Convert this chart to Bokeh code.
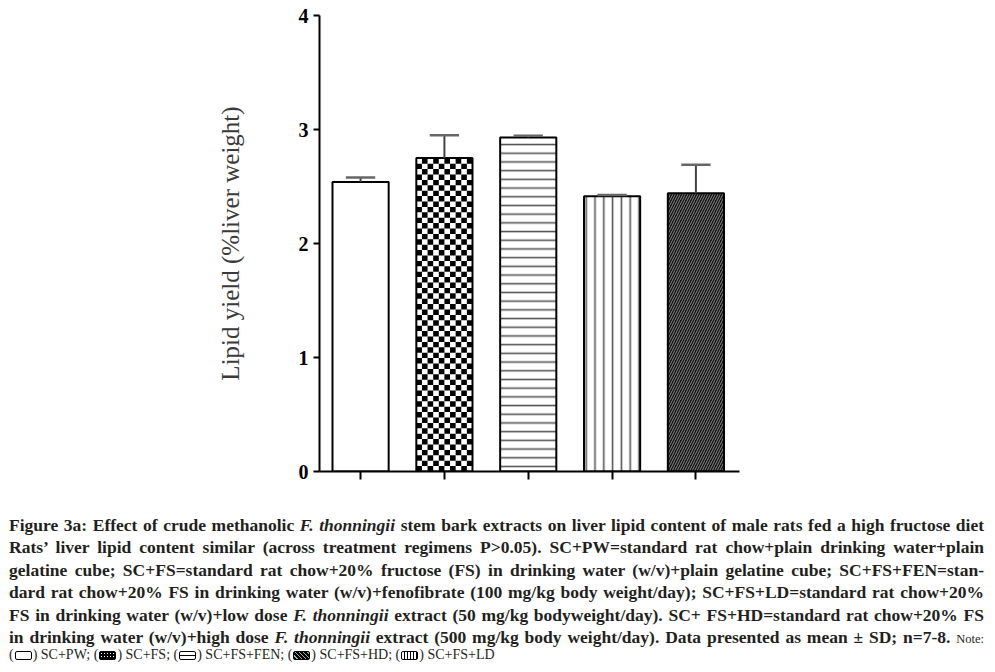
import numpy as np
from bokeh.plotting import figure
from bokeh.models import Range1d, FixedTicker, Div
from bokeh.layouts import column
from bokeh.embed import file_html
from bokeh.resources import INLINE

# ---------------- data ----------------
groups = ["SC+PW", "SC+FS", "SC+FS+FEN", "SC+FS+LD", "SC+FS+HD"]
means = [2.54, 2.75, 2.93, 2.415, 2.44]
sds = [0.04, 0.20, 0.015, 0.01, 0.25]
y_ticks = [0, 1, 2, 3, 4]
y_label = "Lipid yield (%liver weight)"

caption_lines = [
    "Figure 3a: Effect of crude methanolic <i>F. thonningii</i> stem bark extracts on liver lipid content of male rats fed a high fructose diet",
    "Rats\u2019 liver lipid content similar (across treatment regimens P&gt;0.05). SC+PW=standard rat chow+plain drinking water+plain",
    "gelatine cube; SC+FS=standard rat chow+20% fructose (FS) in drinking water (w/v)+plain gelatine cube; SC+FS+FEN=stan-",
    "dard rat chow+20% FS in drinking water (w/v)+fenofibrate (100 mg/kg body weight/day); SC+FS+LD=standard rat chow+20%",
    "FS in drinking water (w/v)+low dose <i>F. thonningii</i> extract (50 mg/kg bodyweight/day). SC+ FS+HD=standard rat chow+20% FS",
    "in drinking water (w/v)+high dose <i>F. thonningii</i> extract (500 mg/kg body weight/day). Data presented as mean \u00b1 SD; n=7-8. "
    "<span style='font-weight:normal;font-size:12.5px'>Note:</span>",
]
legend_order = ["SC+PW", "SC+FS", "SC+FS+FEN", "SC+FS+HD", "SC+FS+LD"]

# ---------------- figure ----------------
xs = np.arange(len(groups))
m = np.array(means)
s = np.array(sds)
BW = 0.67

p = figure(width=987, height=509, output_backend="svg", toolbar_location=None,
           x_range=Range1d(-0.49, 4.52), y_range=Range1d(0, 4),
           min_border_left=319, min_border_right=248, min_border_top=15, min_border_bottom=38)
p.grid.visible = False
p.outline_line_color = None
p.background_fill_color = "white"

fills = ["white", "white", "white", "white", "#111111"]
hatches = [" ", " ", "horizontal_line", "vertical_line", "right_diagonal_line"]
hatch_colors = ["black", "black", "#555555", "#555555", "#8a8a8a"]
hatch_scales = [8, 8, 8.7, 8.8, 5.0]
hatch_weights = [1, 1, 1.6, 1.6, 1.0]

p.vbar(x=xs, top=m, width=BW, fill_color=fills, line_color=None,
       hatch_pattern=hatches, hatch_color=hatch_colors, hatch_scale=hatch_scales,
       hatch_weight=hatch_weights)

# checkerboard for SC+FS
i = groups.index("SC+FS")
ncol = 10
cw = BW / ncol
ch = 5.4 / 114.0
rows = int(np.ceil(means[i] / ch))
L, R, B, T = [], [], [], []
for r in range(rows):
    for c in range(ncol):
        if (r + c) % 2 == 0:
            left = xs[i] - BW / 2 + c * cw
            L.append(left)
            R.append(left + cw)
            B.append(r * ch)
            T.append(min((r + 1) * ch, means[i]))
p.quad(left=L, right=R, bottom=B, top=T, fill_color="black", line_color=None)

# bar outlines
p.vbar(x=xs, top=m, width=BW, fill_color=None, line_color="black", line_width=2)

# error bars (upper only)
p.segment(x0=xs, y0=m, x1=xs, y1=m + s, line_color="#444444", line_width=2)
p.segment(x0=xs - 0.175, y0=m + s, x1=xs + 0.175, y1=m + s, line_color="#666666", line_width=2.5)

# axes
p.xaxis.ticker = FixedTicker(ticks=list(xs))
p.xaxis.major_label_overrides = {int(x): g for x, g in zip(xs, groups)}
p.xaxis.major_label_text_color = None   # the reference shows no category labels
p.xaxis.major_tick_out = 8
p.xaxis.major_tick_in = 0
p.xaxis.minor_tick_line_color = None
p.xaxis.axis_line_width = 2
p.xaxis.major_tick_line_width = 2
p.xaxis.major_tick_line_color = "black"

p.yaxis.ticker = FixedTicker(ticks=y_ticks)
p.yaxis.major_tick_out = 6
p.yaxis.major_tick_in = 0
p.yaxis.minor_tick_line_color = None
p.yaxis.axis_line_width = 2
p.yaxis.major_tick_line_width = 2
p.yaxis.major_label_text_font = "'Liberation Serif'"
p.yaxis.major_label_text_font_style = "bold"
p.yaxis.major_label_text_font_size = "20px"
p.yaxis.major_label_text_color = "black"
p.yaxis.major_label_standoff = 5
p.yaxis.axis_label = y_label
p.yaxis.axis_label_text_font = "'Liberation Serif'"
p.yaxis.axis_label_text_font_style = "normal"
p.yaxis.axis_label_text_font_size = "25px"
p.yaxis.axis_label_text_color = "#3a3a3a"
p.yaxis.axis_label_standoff = 52

# ---------------- caption ----------------
icon_base = "display:inline-block;width:15px;height:7px;border:1px solid black;border-radius:2px;vertical-align:-1px;margin:0 1px;box-sizing:content-box;"
icons = {
    "SC+PW": "background:white;",
    "SC+FS": "background:radial-gradient(circle, white 35%, transparent 40%) 0 0/3px 3px, black;",
    "SC+FS+FEN": "background:linear-gradient(to bottom, white 0 42%, black 42% 62%, white 62% 100%);",
    "SC+FS+HD": "background:repeating-linear-gradient(45deg, black 0 2px, #aaa 2px 3px);",
    "SC+FS+LD": "background:repeating-linear-gradient(90deg, white 0 2px, black 2px 3px);",
}
legend_parts = []
for g in legend_order:
    legend_parts.append(f"(<span style='{icon_base}{icons[g]}'></span>) {g}")
legend_html = "; ".join(legend_parts)

line_style = ("text-align:justify;text-align-last:justify;white-space:nowrap;"
              "line-height:22.4px;height:22.4px;")
html = ("<div style=\"font-family:'Liberation Serif';font-weight:bold;font-size:17.5px;color:#231f20;"
        "box-sizing:border-box;width:979px;padding-left:4px;\">")
for ln in caption_lines:
    html += f"<div style='{line_style}'>{ln}</div>"
html += (f"<div style='font-weight:normal;font-size:14px;line-height:14px;margin-top:0px;white-space:nowrap;'>"
         f"{legend_html}</div>")
html += "</div>"

div = Div(text=html, width=987, height=156)

layout = column(p, div, spacing=0)
open("out.html", "w").write(file_html(layout, INLINE))
